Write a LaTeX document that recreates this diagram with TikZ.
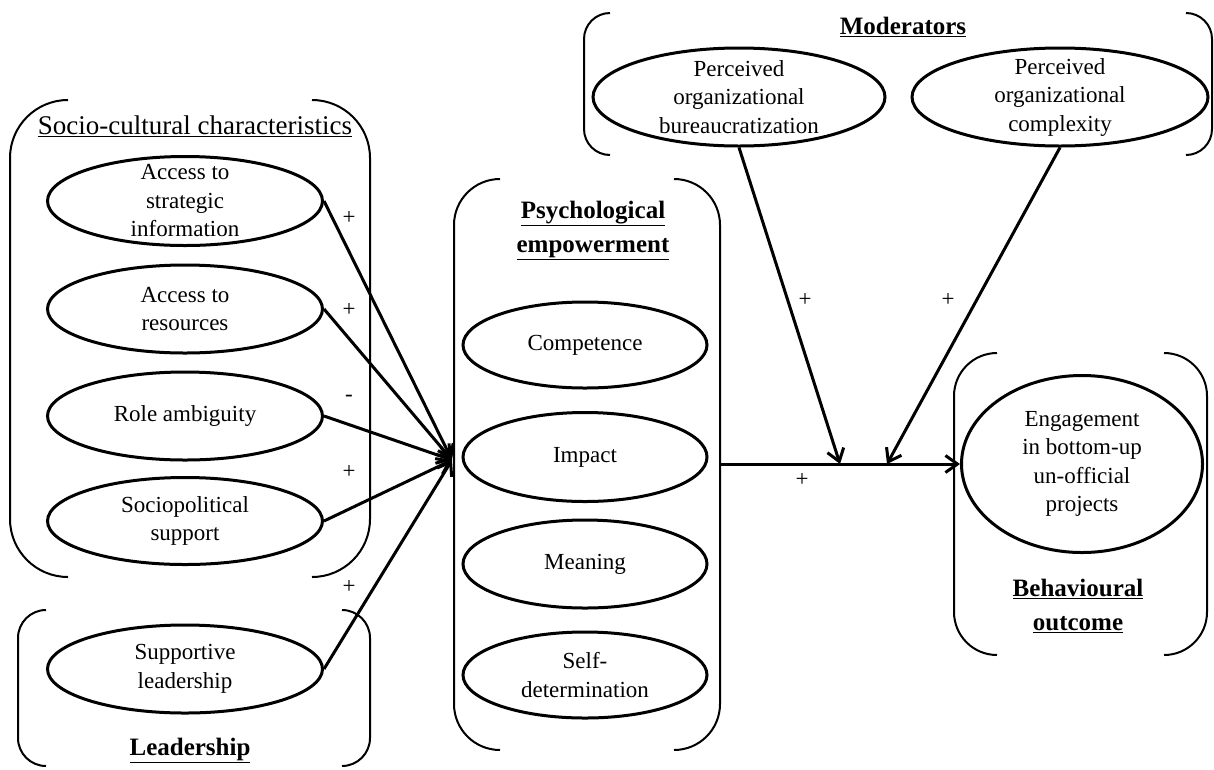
\documentclass[tikz,border=0pt]{standalone}
\usepackage{fontspec}
\setmainfont{Liberation Serif}
\usetikzlibrary{arrows.meta}
\usetikzlibrary{shapes.geometric}
\tikzstyle{oval}=[ellipse, draw=black, line width=3pt, inner sep=0pt]
\tikzstyle{txt}=[align=center, font=\fontsize{23}{28.5}\selectfont]
\tikzstyle{head}=[align=center, font=\fontsize{25}{34}\selectfont\bfseries]
\tikzstyle{sign}=[font=\fontsize{23}{28}\selectfont]
\tikzstyle{link}=[line width=3pt, -{Straight Barb[length=12pt,width=17pt]}]
\tikzstyle{frame}=[line width=2pt]
% left and right halves of a group box
\newcommand{\groupframe}[5]{%
  \draw[frame, rounded corners=#5pt] (#1+#5,#2) -- (#1,#2) -- (#1,#4) -- (#1+#5,#4);
  \draw[frame, rounded corners=#5pt] (#3-#5,#2) -- (#3,#2) -- (#3,#4) -- (#3-#5,#4);}

\begin{document}
\begin{tikzpicture}[x=1pt, y=-1pt]
    \path[use as bounding box, fill=white] (0,0) rectangle (1214,769);

    \groupframe{10}{100}{370}{577}{58}
    \groupframe{18}{610}{370}{766}{28}
    \groupframe{454}{179}{720}{750}{46}
    \groupframe{584}{13}{1212}{155}{26}
    \groupframe{954}{353}{1207}{655}{43}

    \node[font=\fontsize{27}{30}\selectfont] (sctitle) at (195,126) {\underline{Socio-cultural characteristics}};
    \node[head] (ldtitle) at (190,750) {\underline{Leadership}};
    \node[head] (pstitle) at (593,230) {\underline{Psychological}\\\underline{empowerment}};
    \node[head] (mdtitle) at (903,27) {\underline{Moderators}};
    \node[head] (bhtitle) at (1078,606) {\underline{Behavioural}\\\underline{outcome}};

    \node[oval, minimum width=275pt, minimum height=89pt, label={[txt]center:{Access to\\strategic\\information}}] (info) at (185,201) {};
    \node[oval, minimum width=275pt, minimum height=88pt, label={[txt]center:{Access to\\resources}}] (res) at (185,309) {};
    \node[oval, minimum width=275pt, minimum height=88pt, label={[txt]center:{Role ambiguity}}] (role) at (185,416) {};
    \node[oval, minimum width=275pt, minimum height=87pt, label={[txt]center:{Sociopolitical\\support}}] (socpol) at (185,521) {};
    \node[oval, minimum width=275pt, minimum height=88pt, label={[txt]center:{Supportive\\leadership}}] (supp) at (185,669) {};

    \node[oval, minimum width=244pt, minimum height=86pt, label={[txt]center:{Competence}}] (comp) at (585,345) {};
    \node[oval, minimum width=244pt, minimum height=89pt, label={[txt]center:{Impact}}] (impact) at (585,457) {};
    \node[oval, minimum width=244pt, minimum height=88pt, label={[txt]center:{Meaning}}] (meaning) at (585,564) {};
    \node[oval, minimum width=244pt, minimum height=86pt, label={[txt]center:{Self-\\determination}}] (selfdet) at (585,675) {};

    \node[oval, minimum width=292pt, minimum height=98pt, label={[txt]center:{Perceived\\organizational\\bureaucratization}}] (bur) at (739,97) {};
    \node[oval, minimum width=296pt, minimum height=98pt, label={[txt]center:{Perceived\\organizational\\complexity}}] (cplx) at (1060,97) {};

    \node[oval, minimum width=241pt, minimum height=177pt, label={[txt]center:{Engagement\\in bottom-up\\un-official\\projects}}] (engage) at (1082,464) {};

    \coordinate (conv) at (452,460);
    \coordinate (psyout) at (720,464);
    \coordinate (modA) at (840,464);
    \coordinate (modB) at (887,464);

    \draw[link] (info.east) -- (conv);
    \draw[link] (res.east) -- (conv);
    \draw[link] (role.east) -- (conv);
    \draw[link] (socpol.east) -- (conv);
    \draw[link] (supp.east) -- (conv);
    \draw[link] (psyout) -- (engage.west);
    \draw[link] (bur.south) -- (modA);
    \draw[link] (cplx.south) -- (modB);

    \node[sign] (s1) at (349,218) {+};
    \node[sign] (s2) at (349,310) {+};
    \node[sign] (s3) at (349,398) {-};
    \node[sign] (s4) at (349,472) {+};
    \node[sign] (s5) at (349,587) {+};
    \node[sign] (s6) at (802,480) {+};
    \node[sign] (s7) at (805,300) {+};
    \node[sign] (s8) at (948,300) {+};
\end{tikzpicture}
\end{document}
